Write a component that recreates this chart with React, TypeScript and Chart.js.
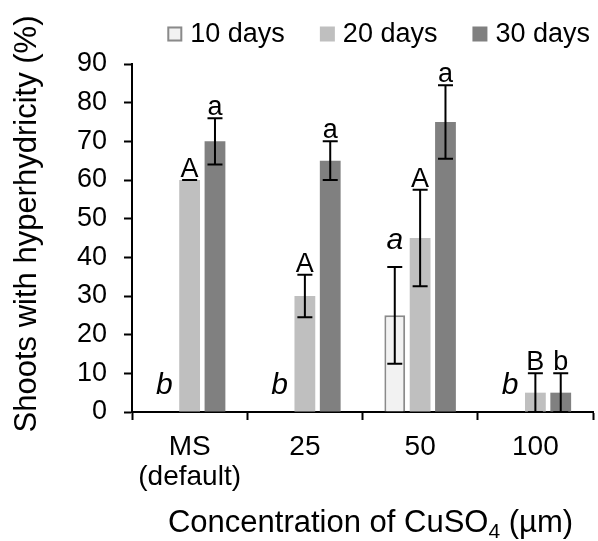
import { useEffect, useRef } from "react";
import { Chart, registerables } from "chart.js";

Chart.register(...registerables);

// ---- data ----
const categories: (string | string[])[] = [["MS", "(default)"], "25", "50", "100"];
const seriesNames = ["10 days", "20 days", "30 days"];
const days10 = [0, 0, 25, 0];
const days20 = [60, 30, 45, 5];
const days30 = [70, 65, 75, 5];
const err10 = [0, 0, 12.5, 0];
const err20 = [0, 5.5, 12.5, 5];
const err30 = [6, 5, 9.5, 5];
const letters10 = ["b", "b", "a", "b"];
const letters20 = ["A", "A", "A", "B"];
const letters30 = ["a", "a", "a", "b"];
const yMin = 0;
const yMax = 90;
const yStep = 10;
const yTitle = "Shoots with hyperhydricity (%)";
const xTitleMain = "Concentration of CuSO";
const xTitleSub = "4";
const xTitleTail = " (µm)";

const FONT = '"Liberation Sans", Arial, Helvetica, sans-serif';
const fills = ["#f2f2f2", "#bfbfbf", "#808080"];
const borders = ["#8a8a8a", "#bfbfbf", "#808080"];

export default function App() {
  const ref = useRef<HTMLCanvasElement | null>(null);

  useEffect(() => {
    if (!ref.current) return;
    const values = [days10, days20, days30];
    const errs = [err10, err20, err30];
    const letters = [letters10, letters20, letters30];

    const overlay = {
      id: "overlay",
      afterDatasetsDraw(chart: any) {
        const ctx = chart.ctx;
        const ys = chart.scales.y;
        ctx.save();
        ctx.strokeStyle = "#000";
        ctx.lineWidth = 2;
        ctx.fillStyle = "#000";
        ctx.textAlign = "center";
        ctx.textBaseline = "alphabetic";
        for (let i = 0; i < values.length; i++) {
          const meta = chart.getDatasetMeta(i);
          meta.data.forEach((el: any, j: number) => {
            const v = values[i][j];
            const e = errs[i][j];
            const x = el.x;
            const yTop = ys.getPixelForValue(v + e);
            const yBot = ys.getPixelForValue(Math.max(0, v - e));
            const cap = 7.5;
            ctx.beginPath();
            ctx.moveTo(x, yTop);
            ctx.lineTo(x, yBot);
            ctx.moveTo(x - cap, yTop);
            ctx.lineTo(x + cap, yTop);
            ctx.moveTo(x - cap, yBot);
            ctx.lineTo(x + cap, yBot);
            ctx.stroke();
            const italic = i === 0;
            ctx.font = italic ? `italic 30px ${FONT}` : `27px ${FONT}`;
            ctx.fillText(letters[i][j], x, yTop - (italic ? 18 : 3));
          });
        }
        ctx.restore();
      },
      afterDraw(chart: any) {
        const ctx = chart.ctx;
        const area = chart.chartArea;
        ctx.save();
        ctx.fillStyle = "#000";
        // legend
        ctx.font = `27px ${FONT}`;
        ctx.textBaseline = "middle";
        ctx.textAlign = "left";
        const box = 15;
        const gap = 8;
        const spacing = 35;
        const widths = seriesNames.map((n) => box + gap + ctx.measureText(n).width);
        const total = widths.reduce((a, b) => a + b, 0) + spacing * (widths.length - 1);
        let lx = area.right - 3 - total;
        const ly = 34;
        seriesNames.forEach((n, i) => {
          ctx.fillStyle = fills[i];
          ctx.fillRect(lx, ly - box / 2, box, box);
          if (i === 0) {
            ctx.strokeStyle = borders[0];
            ctx.lineWidth = 2;
            ctx.strokeRect(lx + 1, ly - box / 2 + 1, box - 2, box - 2);
          }
          ctx.fillStyle = "#000";
          ctx.fillText(n, lx + box + gap, ly + 1);
          lx += widths[i] + spacing;
        });
        // y title
        ctx.save();
        ctx.font = `31px ${FONT}`;
        ctx.textAlign = "center";
        ctx.textBaseline = "middle";
        ctx.translate(27, (area.top + area.bottom) / 2 - 14);
        ctx.rotate(-Math.PI / 2);
        ctx.fillText(yTitle, 0, 0);
        ctx.restore();
        // x title with subscript
        ctx.textBaseline = "alphabetic";
        ctx.textAlign = "left";
        ctx.font = `31px ${FONT}`;
        const w1 = ctx.measureText(xTitleMain).width;
        const w3 = ctx.measureText(xTitleTail).width;
        ctx.font = `21px ${FONT}`;
        const w2 = ctx.measureText(xTitleSub).width;
        const cx = (area.left + area.right) / 2 + 8;
        const base = 532;
        let tx = cx - (w1 + w2 + w3) / 2;
        ctx.font = `31px ${FONT}`;
        ctx.fillText(xTitleMain, tx, base);
        tx += w1;
        ctx.font = `21px ${FONT}`;
        ctx.fillText(xTitleSub, tx, base + 6);
        tx += w2;
        ctx.font = `31px ${FONT}`;
        ctx.fillText(xTitleTail, tx, base);
        ctx.restore();
      },
    };

    const chart = new Chart(ref.current, {
      type: "bar",
      data: {
        labels: categories,
        datasets: seriesNames.map((name, i) => ({
          label: name,
          data: values[i],
          backgroundColor: fills[i],
          borderColor: borders[i],
          borderWidth: i === 0 ? 2 : 0,
          barPercentage: 0.82,
          categoryPercentage: 0.66,
        })),
      },
      options: {
        responsive: false,
        animation: false,
        layout: { padding: { left: 0, top: 64, right: 5, bottom: 0 } },
        plugins: {
          legend: { display: false },
          tooltip: { enabled: false },
        },
        scales: {
          x: {
            offset: true,
            grid: {
              display: true,
              offset: true,
              drawOnChartArea: false,
              drawTicks: true,
              tickLength: 8,
              tickWidth: 2,
              tickColor: "#000",
              color: "#000",
            },
            border: { display: true, color: "#000", width: 2 },
            ticks: {
              color: "#000",
              font: { family: FONT, size: 28, lineHeight: 1.09 },
              padding: 12,
              maxRotation: 0,
              autoSkip: false,
            },
            afterFit(scale: any) {
              scale.height = 129;
            },
          },
          y: {
            min: yMin,
            max: yMax,
            grid: {
              display: true,
              drawOnChartArea: false,
              drawTicks: true,
              tickLength: 8,
              tickWidth: 2,
              tickColor: "#000",
              color: "#000",
            },
            border: { display: true, color: "#000", width: 2 },
            ticks: {
              stepSize: yStep,
              color: "#000",
              font: { family: FONT, size: 27 },
              padding: 17,
            },
            afterFit(scale: any) {
              scale.width = 132;
            },
          },
        },
      },
      plugins: [overlay],
    });
    return () => chart.destroy();
  }, []);

  return (
    <div style={{ position: "absolute", left: 0, top: 0, width: 598, height: 541, background: "#fff" }}>
      <canvas ref={ref} width={598} height={541} style={{ display: "block" }} />
    </div>
  );
}
